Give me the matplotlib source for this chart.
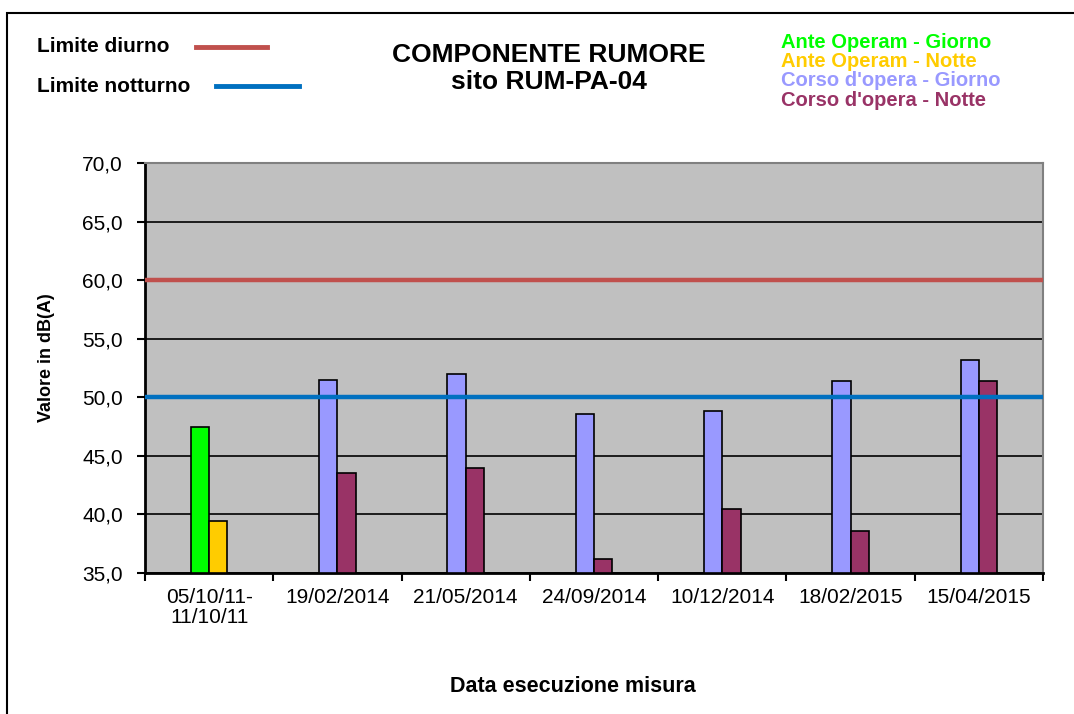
import matplotlib
matplotlib.use("Agg")
import matplotlib.pyplot as plt
import numpy as np
from matplotlib.patches import Rectangle

plt.rcParams['font.family'] = ['Liberation Sans', 'DejaVu Sans']

categories = ["05/10/11-\n11/10/11", "19/02/2014", "21/05/2014", "24/09/2014",
              "10/12/2014", "18/02/2015", "15/04/2015"]
ante_giorno = [47.5, None, None, None, None, None, None]
ante_notte = [39.4, None, None, None, None, None, None]
corso_giorno = [None, 51.5, 52.0, 48.6, 48.8, 51.4, 53.2]
corso_notte = [None, 43.5, 44.0, 36.2, 40.5, 38.6, 51.4]
limite_diurno = 60.0
limite_notturno = 50.0
yticks = [35, 40, 45, 50, 55, 60, 65, 70]

W, H = 1074, 714
fig = plt.figure(figsize=(W / 100, H / 100), dpi=100)
fig.patch.set_facecolor("white")

ax = fig.add_axes([145 / W, 1 - 573 / H, (1043 - 145) / W, (573 - 163) / H])
ax.set_facecolor("#C0C0C0")

x = np.arange(len(categories))
w = 0.142

def to_arr(v):
    return np.array([np.nan if a is None else a for a in v], dtype=float)

base = 35.0
series = [
    (ante_giorno, -w / 2, "#00FF00"),
    (ante_notte, w / 2, "#FFCC00"),
    (corso_giorno, -w / 2, "#9999FF"),
    (corso_notte, w / 2, "#993366"),
]
for vals, off, col in series:
    v = to_arr(vals)
    m = ~np.isnan(v)
    ax.bar(x[m] + off, v[m] - base, bottom=base, width=w, color=col,
           edgecolor="black", linewidth=1.2, zorder=3)

ax.set_ylim(35, 70)
ax.set_xlim(-0.5, len(categories) - 0.5)
ax.set_yticks(yticks)
ax.set_yticklabels([f"{t:.1f}".replace(".", ",") for t in yticks], fontsize=15)
ax.yaxis.grid(True, color="black", linewidth=1.2, zorder=1)
ax.set_axisbelow(True)

ax.set_xticks(x)
ax.set_xticklabels(categories, fontsize=15, linespacing=1.05)
ax.set_xticks(np.arange(-0.5, len(categories), 1.0), minor=True)
ax.tick_params(axis="x", which="major", length=0, pad=11)
ax.tick_params(axis="x", which="minor", length=6, width=1.5, direction="out")
ax.tick_params(axis="y", length=6, width=1.5, direction="out", pad=10)

ax.axhline(limite_diurno, color="#C0504D", linewidth=3.2, zorder=4)
ax.axhline(limite_notturno, color="#0070C0", linewidth=3.2, zorder=4)

for s in ["left", "bottom"]:
    ax.spines[s].set_linewidth(2)
    ax.spines[s].set_color("black")
for s in ["right", "top"]:
    ax.spines[s].set_linewidth(1.5)
    ax.spines[s].set_color("#808080")

ax.set_ylabel("Valore in dB(A)", fontsize=13, fontweight="bold")
ax.yaxis.set_label_coords((55 - 145) / 898, (573 - 358) / 410)
fig.text(573 / W, 1 - 687 / H, "Data esecuzione misura", fontsize=15.5,
         fontweight="bold", ha="center", va="center")

# title
fig.text(549 / W, 1 - 55 / H, "COMPONENTE RUMORE", fontsize=19,
         fontweight="bold", ha="center", va="center")
fig.text(549 / W, 1 - 82 / H, "sito RUM-PA-04", fontsize=19,
         fontweight="bold", ha="center", va="center")

# left legend (limits)
fig.text(37 / W, 1 - 47 / H, "Limite diurno", fontsize=15, fontweight="bold",
         ha="left", va="center")
fig.add_artist(plt.Line2D([196 / W, 267 / W], [1 - 47 / H, 1 - 47 / H],
                          color="#C0504D", linewidth=3.5))
fig.text(37 / W, 1 - 86 / H, "Limite notturno", fontsize=15, fontweight="bold",
         ha="left", va="center")
fig.add_artist(plt.Line2D([216 / W, 299 / W], [1 - 86 / H, 1 - 86 / H],
                          color="#0070C0", linewidth=3.5))

# right legend (series)
leg = [("Ante Operam - Giorno", "#00FF00"), ("Ante Operam - Notte", "#FFCC00"),
       ("Corso d'opera - Giorno", "#9999FF"), ("Corso d'opera - Notte", "#993366")]
for i, (t, c) in enumerate(leg):
    fig.text(781 / W, 1 - (42 + i * 19.5) / H, t, color=c, fontsize=14.5,
             fontweight="bold", ha="left", va="center")

# chart border
fig.add_artist(Rectangle((7 / W, -0.05), 1.1, 1 - 13 / H + 0.05, transform=fig.transFigure,
                         fill=False, edgecolor="black", linewidth=1.5))

fig.savefig("out.png", dpi=100)
